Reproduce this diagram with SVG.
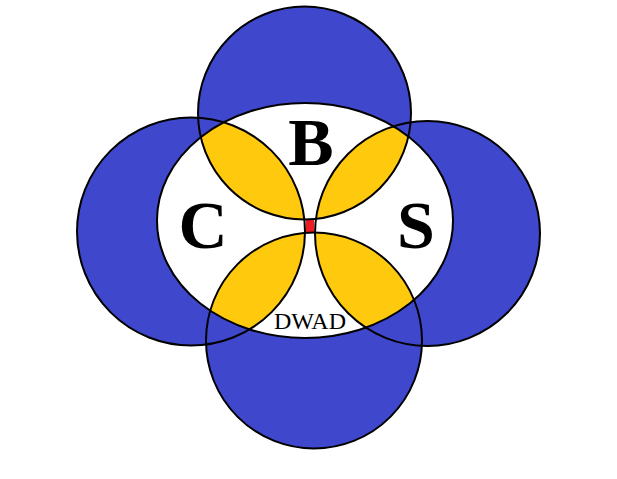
<svg xmlns="http://www.w3.org/2000/svg" width="617" height="479" viewBox="0 0 617 479">
<style>
.blue{fill:#3f48cc}
.yel{fill:#ffc90e}
.line{fill:none;stroke:#000;stroke-width:2}
.big{font-family:"Liberation Serif",serif;font-weight:bold;font-size:68px;fill:#000;text-anchor:middle}
.small{font-family:"Liberation Serif",serif;font-size:24px;fill:#000;text-anchor:middle}
</style>
<defs>
<clipPath id="ell"><ellipse cx="305" cy="220.5" rx="148" ry="117.5"/></clipPath>
<clipPath id="cT"><circle cx="304.5" cy="113" r="106.5"/></clipPath>
<clipPath id="cB"><circle cx="314" cy="340.5" r="108"/></clipPath>
</defs>
<rect width="617" height="479" fill="#fff"/>
<g id="circles-fill">
<circle class="blue" cx="304.5" cy="113" r="106.5"/>
<circle class="blue" cx="191" cy="231.5" r="114"/>
<circle class="blue" cx="427.5" cy="233.5" r="112.5"/>
<circle class="blue" cx="314" cy="340.5" r="108"/>
</g>
<g id="center-ellipse">
<ellipse cx="305" cy="220.5" rx="148" ry="117.5" fill="#fff"/>
</g>
<g id="lenses" clip-path="url(#ell)">
<circle class="yel" cx="191" cy="231.5" r="114" clip-path="url(#cT)"/>
<circle class="yel" cx="427.5" cy="233.5" r="112.5" clip-path="url(#cT)"/>
<circle class="yel" cx="191" cy="231.5" r="114" clip-path="url(#cB)"/>
<circle class="yel" cx="427.5" cy="233.5" r="112.5" clip-path="url(#cB)"/>
</g>
<g id="center-square">
<rect x="306" y="220" width="8" height="13" fill="#ed1c24"/>
</g>
<g id="outlines">
<circle class="line" cx="304.5" cy="113" r="106.5"/>
<circle class="line" cx="191" cy="231.5" r="114"/>
<circle class="line" cx="427.5" cy="233.5" r="112.5"/>
<circle class="line" cx="314" cy="340.5" r="108"/>
<ellipse class="line" cx="305" cy="220.5" rx="148" ry="117.5"/>
</g>
<g id="labels">
<text class="big" x="311" y="165">B</text>
<text class="big" x="203" y="248">C</text>
<text class="big" x="416" y="248">S</text>
<text class="small" x="310" y="329">DWAD</text>
</g>
</svg>
